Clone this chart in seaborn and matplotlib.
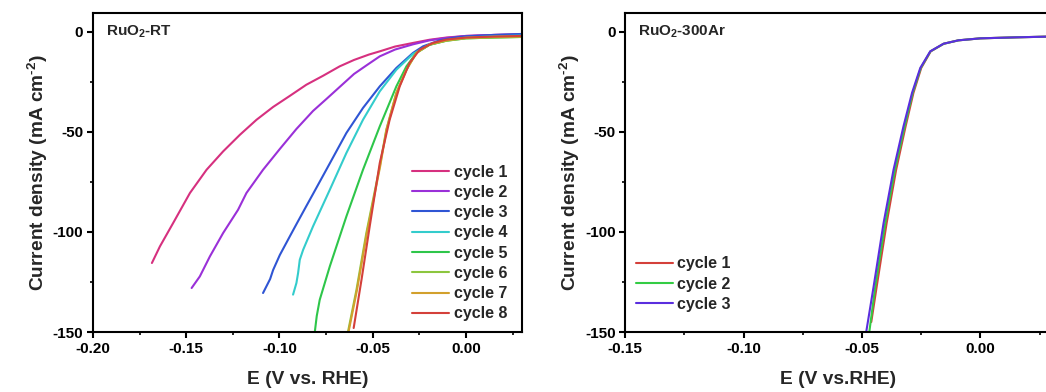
import matplotlib
matplotlib.use("Agg")
import matplotlib.pyplot as plt
from matplotlib.ticker import MultipleLocator
import seaborn as sns

# ---- RuO2-RT: eight successive LSV cycles ----
rt_labels = ["cycle 1", "cycle 2", "cycle 3", "cycle 4",
             "cycle 5", "cycle 6", "cycle 7", "cycle 8"]
rt_colors = ["#D6307F", "#9A30D8", "#2F55D4", "#33CCCC",
             "#2EC64A", "#8CC63E", "#D2A02C", "#D4403A"]

rt_E = [
    [-0.1684, -0.1641, -0.1570, -0.1480, -0.1391, -0.1302, -0.1212, -0.1123, -0.1034,
     -0.0945, -0.0856, -0.0766, -0.0677, -0.0600, -0.0520, -0.0462, -0.0380, -0.0284,
     -0.0195, -0.0105, 0.0000, 0.0150, 0.0300],
    [-0.1471, -0.1427, -0.1373, -0.1302, -0.1222, -0.1177, -0.1088, -0.0998, -0.0909,
     -0.0820, -0.0748, -0.0677, -0.0600, -0.0530, -0.0462, -0.0380, -0.0284, -0.0195,
     -0.0105, 0.0000, 0.0150, 0.0300],
    [-0.1088, -0.1050, -0.1034, -0.0998, -0.0945, -0.0909, -0.0855, -0.0820, -0.0730,
     -0.0641, -0.0552, -0.0462, -0.0373, -0.0284, -0.0230, -0.0141, -0.0060, 0.0000,
     0.0150, 0.0300],
    [-0.0927, -0.0909, -0.0900, -0.0891, -0.0873, -0.0820, -0.0730, -0.0641, -0.0552,
     -0.0462, -0.0373, -0.0284, -0.0195, -0.0105, 0.0000, 0.0150, 0.0300],
    [-0.0810, -0.0800, -0.0784, -0.0730, -0.0641, -0.0552, -0.0462, -0.0373, -0.0319,
     -0.0266, -0.0195, -0.0105, 0.0000, 0.0150, 0.0300],
    [-0.0632, -0.0587, -0.0534, -0.0462, -0.0427, -0.0373, -0.0319, -0.0266, -0.0195,
     -0.0105, 0.0000, 0.0150, 0.0300],
    [-0.0629, -0.0584, -0.0531, -0.0460, -0.0426, -0.0373, -0.0319, -0.0266, -0.0195,
     -0.0105, 0.0000, 0.0150, 0.0300],
    [-0.0602, -0.0560, -0.0516, -0.0462, -0.0409, -0.0355, -0.0302, -0.0248, -0.0177,
     -0.0105, 0.0000, 0.0150, 0.0300],
]
rt_j = [
    [-115.5, -107.2, -95.5, -80.5, -68.9, -59.7, -51.4, -43.9, -37.5,
     -32.0, -26.4, -21.9, -17.2, -14.0, -11.3, -9.7, -7.3, -5.5,
     -3.9, -2.8, -2.0, -1.5, -1.2],
    [-128.0, -122.2, -112.2, -100.5, -88.9, -80.5, -68.9, -58.5, -48.5,
     -39.5, -33.5, -27.5, -21.0, -16.5, -12.2, -8.8, -6.2, -4.2,
     -3.0, -2.0, -1.5, -1.2],
    [-130.5, -123.5, -119.0, -111.5, -102.3, -96.1, -86.9, -81.0, -65.7,
     -50.5, -38.0, -27.2, -18.0, -10.5, -7.2, -4.2, -2.8, -2.2,
     -1.5, -1.0],
    [-131.3, -125.5, -120.5, -113.9, -108.9, -97.2, -78.9, -60.5, -43.9,
     -29.7, -18.9, -11.0, -6.4, -4.2, -2.8, -2.2, -1.8],
    [-149.7, -142.0, -133.9, -117.2, -92.2, -68.9, -47.2, -27.2, -17.2,
     -10.5, -6.4, -4.4, -3.2, -2.8, -2.5],
    [-149.7, -128.9, -100.5, -67.2, -48.9, -30.5, -18.9, -10.5, -6.4,
     -4.4, -3.2, -2.8, -2.5],
    [-149.7, -128.9, -100.5, -67.2, -48.9, -30.5, -18.9, -10.5, -6.2,
     -4.2, -3.0, -2.5, -2.2],
    [-148.0, -123.9, -97.2, -65.5, -43.9, -27.2, -15.5, -8.9, -5.5,
     -3.8, -2.8, -2.3, -2.0],
]

# ---- RuO2-300Ar: three LSV cycles ----
ar_labels = ["cycle 1", "cycle 2", "cycle 3"]
ar_colors = ["#D4403A", "#33CC44", "#5A2EDE"]
ar_E = [
    [-0.0461, -0.0438, -0.0396, -0.0356, -0.0316, -0.0283, -0.0250, -0.0210, -0.0155,
     -0.0093, 0.0000, 0.0150, 0.0300],
    [-0.0469, -0.0444, -0.0402, -0.0361, -0.0320, -0.0286, -0.0252, -0.0211, -0.0155,
     -0.0093, 0.0000, 0.0150, 0.0300],
    [-0.0482, -0.0451, -0.0409, -0.0367, -0.0325, -0.0289, -0.0254, -0.0212, -0.0156,
     -0.0093, 0.0000, 0.0150, 0.0300],
]
ar_j = [
    [-145.0, -127.2, -95.5, -68.9, -47.2, -30.5, -18.0, -9.7, -5.9,
     -4.2, -3.2, -2.7, -2.3],
    [-149.7, -127.2, -95.5, -68.9, -47.2, -30.5, -18.0, -9.7, -5.9,
     -4.2, -3.2, -2.7, -2.3],
    [-149.7, -127.2, -95.5, -68.9, -47.2, -30.5, -18.0, -9.7, -5.9,
     -4.2, -3.2, -2.7, -2.3],
]

sns.set_theme(style="ticks")
plt.rcParams.update({
    "font.family": ["Liberation Sans", "DejaVu Sans"],
    "font.weight": "bold",
    "axes.labelweight": "bold",
    "mathtext.fontset": "custom",
    "mathtext.rm": "Liberation Sans:bold",
    "mathtext.bf": "Liberation Sans:bold",
    "mathtext.it": "Liberation Sans:bold",
    "mathtext.sf": "Liberation Sans:bold",
    "axes.linewidth": 1.5,
    "xtick.direction": "out",
    "ytick.direction": "out",
    "xtick.major.width": 1.5,
    "ytick.major.width": 1.5,
    "xtick.minor.width": 1.2,
    "ytick.minor.width": 1.2,
    "xtick.major.size": 4,
    "ytick.major.size": 4,
    "xtick.minor.size": 2.5,
    "ytick.minor.size": 2.5,
    "xtick.color": "black",
    "ytick.color": "black",
    "axes.edgecolor": "black",
})

fig = plt.figure(figsize=(10.46, 3.92), dpi=100)
ax1 = fig.add_axes([0.0889, 0.153, 0.410, 0.814])
ax2 = fig.add_axes([0.5978, 0.153, 0.4074, 0.814])

for E, j, c, lab in zip(rt_E, rt_j, rt_colors, rt_labels):
    sns.lineplot(x=E, y=j, color=c, label=lab, sort=False, estimator=None,
                 linewidth=1.5, ax=ax1)
for E, j, c, lab in zip(ar_E, ar_j, ar_colors, ar_labels):
    sns.lineplot(x=E, y=j, color=c, label=lab, sort=False, estimator=None,
                 linewidth=1.5, ax=ax2)

ylab = r"Current density (mA cm$^{\text{-2}}$)"
for ax, xl, xlab, title in [
    (ax1, (-0.20, 0.03), "E (V vs. RHE)", r"RuO$_{2}$-RT"),
    (ax2, (-0.15, 0.03), "E (V vs.RHE)", r"RuO$_{2}$-300Ar"),
]:
    ax.set_xlim(*xl)
    ax.set_ylim(-150, 9.5)
    ax.xaxis.set_major_locator(MultipleLocator(0.05))
    ax.xaxis.set_minor_locator(MultipleLocator(0.025))
    ax.yaxis.set_major_locator(MultipleLocator(50))
    ax.yaxis.set_minor_locator(MultipleLocator(25))
    ax.xaxis.set_major_formatter(plt.FuncFormatter(lambda v, p: f"{v:.2f}"))
    ax.yaxis.set_major_formatter(plt.FuncFormatter(lambda v, p: f"{v:.0f}"))
    ax.tick_params(labelsize=11, pad=3)
    for t in ax.get_xticklabels() + ax.get_yticklabels():
        t.set_fontweight("bold")
    for s in ax.spines.values():
        s.set_visible(True)
        s.set_linewidth(1.5)
    ax.set_xlabel(xlab, fontsize=13.8, fontweight="bold", labelpad=11)
    ax.set_ylabel(ylab, fontsize=13.8, fontweight="bold", labelpad=2)
    ax.text(0.03, 0.94, title, transform=ax.transAxes, fontsize=11,
            fontweight="bold", va="center", ha="left")

leg_kw = dict(frameon=False, fontsize=11.5, handlelength=2.3,
              handletextpad=0.3, labelspacing=0.33, borderpad=0,
              borderaxespad=0, loc="upper left")
for t in ax1.legend(bbox_to_anchor=(0.744, 0.525), **leg_kw).get_texts():
    t.set_fontweight("bold")
for t in ax2.legend(bbox_to_anchor=(0.025, 0.237), **leg_kw).get_texts():
    t.set_fontweight("bold")

fig.savefig("out.png", dpi=100)
